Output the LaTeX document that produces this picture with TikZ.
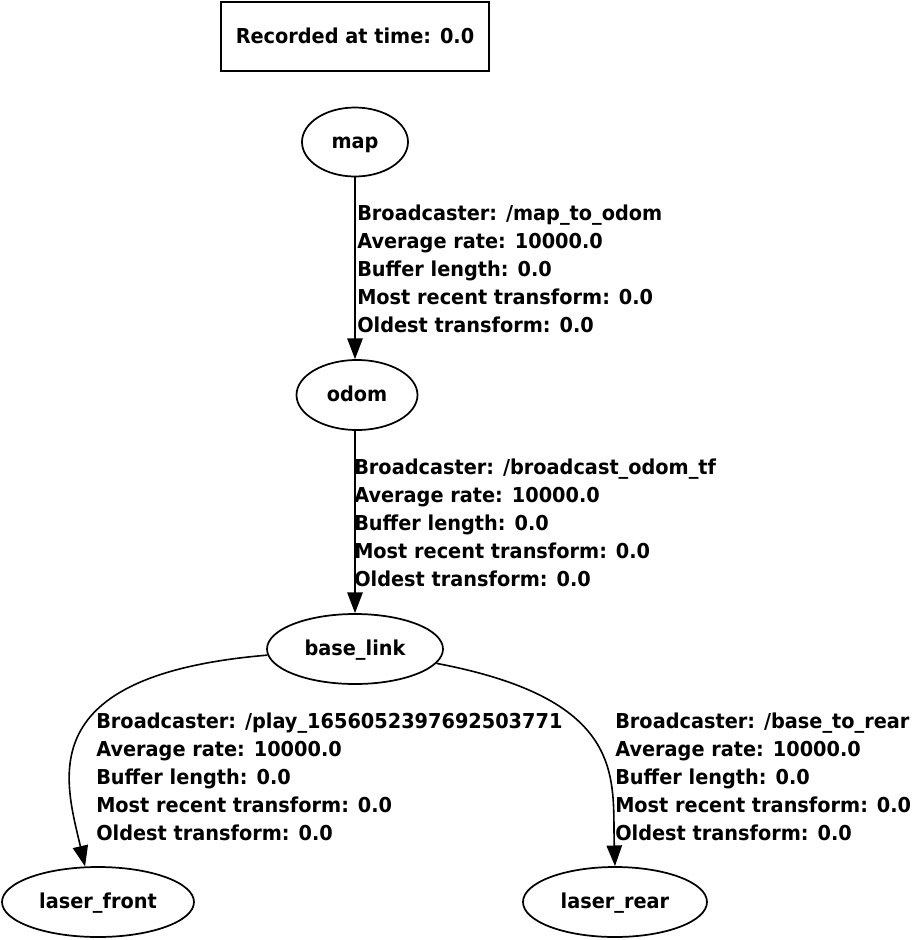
\documentclass[tikz,border=0pt]{standalone}
\usepackage{fontspec}
\setmainfont{DejaVu Sans}[FakeStretch=0.94]
\usetikzlibrary{shapes.geometric,arrows.meta}
\tikzstyle{frame}=[ellipse,draw,line width=1.3pt,inner sep=0pt,minimum height=52.5pt,text height=12pt,text depth=2.2pt,font=\bfseries\fontsize{15.4}{21}\selectfont]
\tikzstyle{info}=[align=left,inner sep=0pt,anchor=west,font=\bfseries\fontsize{15.4}{21}\selectfont]
\tikzstyle{tf}=[line width=1.2pt,-{Triangle[length=15.5pt,width=11.5pt]}]

\begin{document}
\begin{tikzpicture}[x=0.75pt,y=-0.75pt]
\useasboundingbox (0,0) rectangle (912,940);

\node[draw,line width=1.3pt,minimum width=201pt,minimum height=51.75pt,inner sep=0pt,text height=12pt,text depth=2.2pt,
      font=\bfseries\fontsize{15.4}{21}\selectfont] (rec) at (355, 36.5) {Recorded at time: 0.0};

\node[frame,minimum width=79.5pt,minimum height=51.75pt] (map) at (355, 142) {map};
\node[frame,minimum width=90.75pt] (odom) at (357, 395) {odom};
\node[frame,minimum width=132pt]   (bl)   at (355, 649) {base\_link};
\node[frame,minimum width=144pt]   (lf)   at (98, 902)  {laser\_front};
\node[frame,minimum width=138pt]   (lr)   at (615, 902) {laser\_rear};

\draw[tf] (map) -- (map |- odom.north);
\draw[tf] (odom.south -| map) -- (bl);
\draw[tf] (bl.184) .. controls (30, 675) and (65, 780) .. (lf.110);
\draw[tf] (bl.-10) .. controls (630, 700) and (612, 780) .. (lr.90);

\node[info] (e1) at (357, 269) {Broadcaster: /map\_to\_odom\\Average rate: 10000.0\\Buffer length: 0.0\\Most recent transform: 0.0\\Oldest transform: 0.0};
\node[info] (e2) at (354, 523) {Broadcaster: /broadcast\_odom\_tf\\Average rate: 10000.0\\Buffer length: 0.0\\Most recent transform: 0.0\\Oldest transform: 0.0};
\node[info] (e3) at (96, 777) {Broadcaster: /play\_1656052397692503771\\Average rate: 10000.0\\Buffer length: 0.0\\Most recent transform: 0.0\\Oldest transform: 0.0};
\node[info] (e4) at (615, 777) {Broadcaster: /base\_to\_rear\\Average rate: 10000.0\\Buffer length: 0.0\\Most recent transform: 0.0\\Oldest transform: 0.0};

\end{tikzpicture}
\end{document}
